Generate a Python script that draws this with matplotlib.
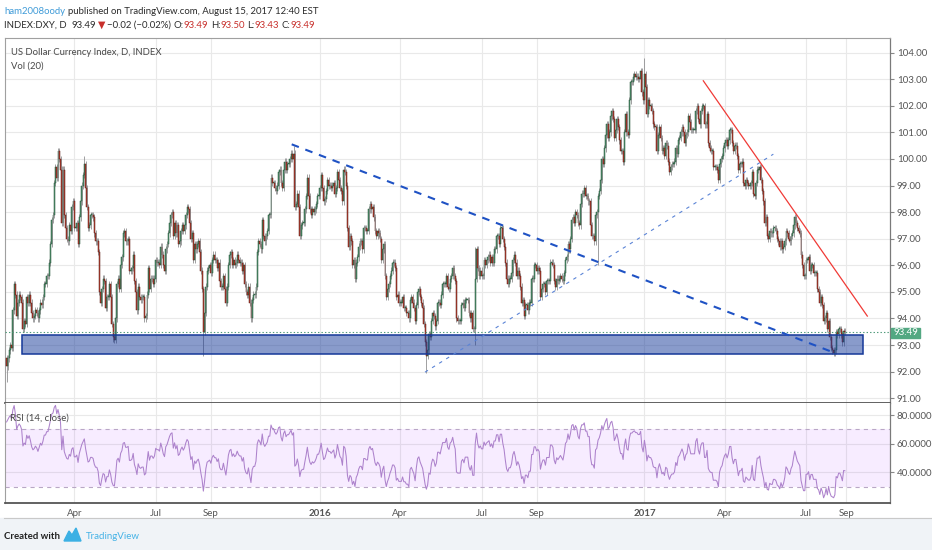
import numpy as np
import matplotlib
matplotlib.use('Agg')
import matplotlib.pyplot as plt
from matplotlib.patches import Rectangle, Polygon
from matplotlib.lines import Line2D

# DXY daily closes (one list per year, month by month)
closes_2015 = [
    92.2, 92.5, 92.8, 93.0, 92.9, 94.3, 95.3, 94.9, 94.1, 94.6, 94.9, 94.8,  # Jan (from 15th)
    94.6, 93.6, 93.9, 93.8, 94.8, 94.6, 94.9, 94.6, 94.2, 94.0, 94.1, 94.3, 94.2, 94.0, 94.3, 94.6, 94.5, 94.8, 95.3, 95.3,  # Feb
    95.6, 95.6, 96.1, 96.8, 97.7, 97.9, 99.1, 99.7, 99.3, 100.3, 100.0, 99.6, 97.6, 99.6, 97.9, 97.4, 97.0, 96.9, 97.5, 97.3, 98.2, 98.4,  # Mar
    97.4, 97.4, 97.6, 96.8, 97.8, 98.4, 99.0, 99.4, 99.8, 98.9, 98.2, 97.4, 97.5, 97.9, 97.9, 97.8, 97.2, 96.9, 96.9, 96.5, 95.0, 94.6,  # Apr
    95.1, 95.5, 95.4, 94.4, 94.8, 94.8, 95.3, 94.8, 93.8, 93.3, 93.2, 94.0, 95.3, 95.5, 95.1, 96.0, 96.3, 97.2, 97.3, 96.9, 96.9,  # May
    97.0, 95.8, 95.8, 95.9, 96.4, 95.4, 95.0, 94.3, 95.2, 94.8, 94.7, 94.8, 94.8, 94.0, 94.1, 94.9, 95.9, 95.1, 95.5, 95.5, 95.3, 95.5,  # Jun
    96.2, 96.1, 96.1, 96.0, 96.7, 96.4, 96.0, 95.8, 96.6, 96.8, 97.2, 97.6, 97.9, 98.0, 97.1, 97.6, 97.2, 97.5, 96.8, 96.9, 97.3, 97.5, 97.3,  # Jul
    97.5, 97.9, 98.2, 98.1, 97.6, 97.0, 97.2, 96.2, 96.8, 96.6, 96.8, 96.9, 96.5, 95.8, 95.1, 93.5, 94.2, 95.2, 95.8, 95.9, 96.0,  # Aug
    95.7, 96.2, 96.4, 96.2, 96.2, 95.9, 96.1, 95.4, 95.2, 95.2, 95.6, 95.1, 94.6, 95.2, 96.0, 96.4, 96.5, 96.0, 96.2, 96.0, 96.1, 96.4,  # Sep
    96.2, 96.1, 96.1, 95.8, 96.0, 95.3, 95.0, 94.9, 95.2, 94.6, 94.0, 94.7, 94.9, 94.9, 95.2, 96.5, 96.9, 96.8, 96.6, 97.7, 97.1, 96.9,  # Oct
    97.1, 97.3, 97.9, 97.9, 99.3, 99.1, 99.1, 98.9, 98.8, 99.0, 99.5, 99.6, 99.1, 98.9, 99.6, 99.9, 99.6, 99.8, 99.8, 100.0, 100.2,  # Nov
    100.0, 100.2, 98.2, 98.3, 98.7, 98.2, 97.1, 97.5, 97.6, 97.6, 98.1, 98.6, 99.3, 98.6, 98.1, 97.9, 98.1, 98.0, 98.1, 98.3, 98.6, 98.6,  # Dec
]
closes_2016 = [
    98.9, 99.4, 98.9, 98.4, 98.5, 98.8, 99.2, 99.0, 99.0, 98.9, 99.0, 99.1, 98.7, 98.9, 99.5, 99.2, 98.9, 98.8, 98.4, 99.6,  # Jan
    99.5, 99.0, 97.4, 96.7, 97.1, 96.9, 96.0, 96.2, 95.5, 96.1, 96.3, 96.7, 96.9, 96.9, 96.6, 97.4, 97.4, 97.3, 97.3, 98.1, 98.3,  # Feb
    98.1, 98.2, 97.8, 97.3, 97.1, 97.3, 97.2, 97.0, 96.2, 96.6, 96.8, 95.6, 94.8, 95.1, 95.3, 95.6, 95.8, 96.1, 96.1, 95.9, 94.8, 94.9, 94.6,  # Mar
    94.6, 94.6, 94.8, 94.4, 94.4, 94.2, 94.2, 94.0, 94.7, 94.8, 94.6, 94.4, 93.9, 94.5, 95.0, 95.1, 94.8, 94.6, 94.4, 93.8, 93.1,  # Apr
    92.6, 92.8, 93.4, 93.3, 93.9, 94.2, 94.1, 93.7, 93.9, 94.6, 94.6, 94.5, 94.9, 95.3, 95.3, 95.3, 95.6, 95.2, 95.1, 95.5, 95.6, 95.9,  # May
    95.6, 95.4, 94.0, 93.9, 93.9, 93.9, 94.5, 94.6, 94.4, 94.7, 94.7, 94.7, 94.2, 94.0, 94.2, 93.6, 93.6, 95.5, 96.6, 95.9, 95.6, 95.8,  # Jun
    95.6, 95.6, 96.2, 96.0, 96.2, 96.3, 96.4, 96.1, 96.3, 96.1, 96.6, 96.6, 97.1, 97.1, 96.8, 97.4, 97.4, 97.0, 96.7, 96.1, 95.5,  # Jul
    95.3, 95.5, 95.5, 95.7, 96.2, 96.4, 96.1, 95.6, 95.8, 95.6, 95.2, 94.6, 94.7, 94.1, 94.5, 94.5, 94.3, 94.6, 94.6, 95.5, 95.5, 96.0, 96.0,  # Aug
    95.8, 95.9, 95.8, 94.8, 95.1, 95.3, 95.3, 95.0, 95.4, 95.4, 95.4, 96.1, 96.1, 96.0, 95.4, 95.2, 95.5, 95.4, 95.5, 95.6, 95.5, 95.4,  # Sep
    95.7, 96.2, 96.3, 96.8, 96.6, 97.0, 97.7, 97.8, 97.6, 98.0, 97.9, 97.6, 97.5, 98.3, 98.7, 98.7, 98.9, 98.6, 98.6, 98.4, 98.4,  # Oct
    97.5, 97.1, 97.1, 96.9, 97.9, 98.0, 98.6, 98.8, 99.2, 100.0, 99.8, 100.4, 100.9, 101.3, 100.8, 101.0, 101.6, 101.8, 101.5, 100.8, 101.1, 101.5,  # Nov
    101.2, 100.7, 100.3, 100.3, 99.9, 101.0, 101.7, 101.0, 100.9, 102.2, 102.9, 102.9, 103.1, 103.2, 103.1, 103.1, 103.0, 103.0, 103.3, 102.5, 102.2,  # Dec
]
closes_2017 = [
    103.2, 102.7, 101.7, 102.2, 102.0, 102.0, 101.8, 101.3, 101.2, 101.2, 100.3, 100.9, 101.2, 100.8, 100.3, 100.4, 100.1, 100.6, 100.5, 99.9, 99.5,  # Jan
    99.7, 99.8, 99.8, 99.9, 100.4, 100.2, 100.7, 100.8, 101.0, 101.2, 101.0, 100.6, 100.9, 101.0, 101.6, 101.4, 101.1, 101.1, 101.1, 101.1,  # Feb
    101.8, 102.0, 101.5, 101.3, 101.8, 102.0, 102.0, 101.3, 101.3, 101.7, 100.6, 100.4, 100.3, 100.3, 99.7, 99.7, 99.7, 99.6, 99.2, 99.8, 100.0, 100.1, 100.4,  # Mar
    100.6, 100.7, 100.5, 100.7, 101.1, 101.1, 100.6, 100.3, 100.5, 100.5, 100.1, 99.6, 99.8, 99.8, 99.9, 99.1, 99.0, 99.2, 99.1, 99.0,  # Apr
    99.0, 99.1, 99.5, 98.7, 98.6, 99.1, 99.6, 99.6, 99.7, 99.2, 98.8, 98.4, 97.6, 97.8, 97.1, 97.0, 97.3, 97.2, 97.2, 97.4, 97.4, 97.3, 97.0,  # May
    96.9, 96.7, 96.9, 96.6, 96.7, 96.9, 97.3, 97.2, 97.0, 96.9, 97.1, 97.2, 97.5, 97.8, 97.6, 97.4, 97.3, 97.2, 96.4, 96.0, 95.6, 95.6,  # Jun
    96.2, 96.2, 96.3, 95.8, 96.0, 96.0, 95.7, 95.7, 95.7, 95.1, 95.0, 94.6, 94.8, 94.5, 93.9, 94.0, 94.2, 93.6, 93.9, 93.3, 92.9,  # Jul
    92.8, 92.7, 92.8, 93.5, 93.4, 93.6, 93.6, 93.4, 93.1, 93.51, 93.49,  # Aug (to 15th)
]
# trading days per month, Jan 2015 (from 15th) .. Aug 2017 (to 15th)
bars_per_month = [12, 20, 22, 22, 21, 22, 23, 21, 22, 22, 21, 22,
                  20, 21, 23, 21, 22, 22, 21, 23, 22, 21, 22, 21,
                  21, 20, 23, 20, 23, 22, 21, 11]
# closes before the first visible bar (only feed the RSI)
warmup_closes = [88.4, 88.6, 88.2, 88.9, 89.1, 89.6, 89.6, 90.1, 90.1, 89.9, 90.1,
                 90.0, 90.3, 91.1, 91.5, 91.8, 92.1, 92.4, 91.9, 92.0, 92.2, 92.5]
# notable wick extremes (bar index, price)
spike_high_idx = [41, 62, 229, 374, 509]
spike_high_val = [100.4, 100.1, 100.5, 96.7, 103.8]
spike_low_idx = [0, 85, 157, 335, 374, 472, 660]
spike_low_val = [91.6, 93.1, 92.6, 91.95, 93.0, 96.0, 92.6]

tick_labels = ['Apr', 'Jul', 'Sep', '2016', 'Apr', 'Jul', 'Sep', '2017', 'Apr', 'Jul', 'Sep']
tick_months = [3, 6, 8, 12, 15, 18, 20, 24, 27, 30, 32]   # month number from Jan 2015
price_ticks = list(range(91, 105))
rsi_ticks = [40, 60, 80]

# drawings: (bar index, price)
zone = (12.5, 683.2, 92.65, 93.38)
blue_trend = ([227.5, 661.1], [100.55, 92.70])
thin_trend = ([333.9, 611.9], [91.98, 100.18])
red_trend = ([556.0, 686.9], [102.94, 94.09])
last_price = 93.49

W, H = 932, 550
FONT = ['Lato', 'DejaVu Sans']
plt.rcParams['lines.scale_dashes'] = False
fig = plt.figure(figsize=(W / 100, H / 100), dpi=100)
fig.patch.set_facecolor('white')


def rect(l, t, r, b):
    return [l / W, 1 - b / H, (r - l) / W, (b - t) / H]


def px(x, y):
    return x / W, 1 - y / H


fig.patches.append(Rectangle((0, 0), 1, 32 / H, transform=fig.transFigure,
                             color='#f0f3f7', zorder=0))
fig.lines.append(Line2D([4 / W, 1], [1 - 518 / H] * 2, transform=fig.transFigure,
                        color='#c9c9c9', lw=0.8))

ax = fig.add_axes(rect(4.5, 38, 890, 403))
ax_rsi = fig.add_axes(rect(4.5, 403, 890, 503), sharex=ax)

closes = np.array(closes_2015 + closes_2016 + closes_2017)
n = len(closes)
idx = np.arange(n)
opens = np.r_[warmup_closes[-1], closes[:-1]]
wick = 0.12
highs = np.maximum(opens, closes) + wick
lows = np.minimum(opens, closes) - wick
highs[spike_high_idx] = spike_high_val
lows[spike_low_idx] = spike_low_val
up = closes >= opens
bottoms = np.minimum(opens, closes)
heights = np.maximum(np.abs(closes - opens), 0.03)

month_start = np.r_[0, np.cumsum(bars_per_month)]
sep17 = month_start[31] + np.busday_count('2017-08-01', '2017-09-01')
month_start = np.r_[month_start, sep17]
tick_pos = [month_start[m] for m in tick_months]

ax.vlines(idx, lows, highs, color='#909092', lw=0.6, zorder=2)
ax.bar(idx[up], heights[up], bottom=bottoms[up], width=0.72, color='#5f9e7c',
       edgecolor='#225437', lw=0.35, zorder=3)
ax.bar(idx[~up], heights[~up], bottom=bottoms[~up], width=0.72, color='#c84a38',
       edgecolor='#5b1a13', lw=0.35, zorder=3)

ax.add_patch(Rectangle((zone[0], zone[2]), zone[1] - zone[0], zone[3] - zone[2],
                       facecolor='#153899', alpha=0.5, lw=0, zorder=4))
ax.add_patch(Rectangle((zone[0], zone[2]), zone[1] - zone[0], zone[3] - zone[2],
                       facecolor='none', edgecolor='#153899', lw=1.1, zorder=4))
ax.axhline(last_price, color='#4f9a7a', lw=0.8, ls=(0, (1, 1.5)), zorder=5)
ax.plot(*blue_trend, color='#1f52c4', lw=1.5, dashes=(5.5, 5), zorder=6)
ax.plot(*thin_trend, color='#5b84d6', lw=0.8, dashes=(2.5, 3.5), zorder=6)
ax.plot(*red_trend, color='#f03a36', lw=0.9, zorder=6)

ax.set_xlim(-1.7, 705)
ax.set_ylim(90.82, 104.55)
ax.set_yticks(price_ticks)
ax.set_yticklabels([f'{v:.2f}' for v in price_ticks])
ax.set_xticks(tick_pos)
ax.yaxis.tick_right()
ax.tick_params(axis='y', length=3, color='#888888', labelsize=7, labelcolor='#555555', pad=2)
ax.tick_params(axis='x', length=0, labelbottom=False)
ax.grid(True, color='#e9e9e9', lw=0.8)
ax.set_axisbelow(True)

# RSI (14) on the closes
allc = np.r_[warmup_closes, closes]
d = np.diff(allc)
g = np.clip(d, 0, None)
l = np.clip(-d, 0, None)
ag = g[:14].mean()
al = l[:14].mean()
rsi = np.full(len(allc), np.nan)
rsi[14] = 100 - 100 / (1 + ag / al)
for k in range(14, len(d)):
    ag = (ag * 13 + g[k]) / 14
    al = (al * 13 + l[k]) / 14
    rsi[k + 1] = 100 - 100 / (1 + ag / al)
rsi = rsi[-n:]

ax_rsi.axhspan(30, 70, color='#9915ff', alpha=0.08, lw=0)
ax_rsi.axhline(70, color='#b9a7c6', lw=0.8, ls=(0, (3, 3)))
ax_rsi.axhline(30, color='#b9a7c6', lw=0.8, ls=(0, (3, 3)))
ax_rsi.plot(idx, rsi, color='#ad82cc', lw=0.75, zorder=3)
ax_rsi.set_ylim(18.6, 88.4)
ax_rsi.set_yticks(rsi_ticks)
ax_rsi.set_yticklabels([f'{v:.4f}' for v in rsi_ticks])
ax_rsi.yaxis.tick_right()
ax_rsi.tick_params(axis='y', length=3, color='#888888', labelsize=7, labelcolor='#555555', pad=2)
ax_rsi.set_xticks(tick_pos)
ax_rsi.set_xticklabels(tick_labels)
ax_rsi.tick_params(axis='x', length=0, labelsize=7, labelcolor='#555555', pad=4)
for t in ax_rsi.get_xticklabels():
    if t.get_text().startswith('20'):
        t.set_fontweight('bold')
ax_rsi.grid(True, color='#e9e9e9', lw=0.8)
ax_rsi.set_axisbelow(True)

for a in (ax, ax_rsi):
    for lab in a.get_xticklabels() + a.get_yticklabels():
        lab.set_family(FONT)
    a.spines['left'].set_color('#a0a0a0')
    a.spines['left'].set_linewidth(0.8)
    a.spines['right'].set_color('#7a7a7a')
    a.spines['right'].set_linewidth(0.9)
    a.spines['bottom'].set_color('#555555')
    a.spines['bottom'].set_linewidth(1.3)
ax.spines['top'].set_color('#a0a0a0')
ax.spines['top'].set_linewidth(0.8)
ax_rsi.spines['top'].set_visible(False)

# last price tag
fig.patches.append(Rectangle(px(890.5, 337.5), 29 / W, 10 / H, transform=fig.transFigure,
                             color='#53a882', zorder=5))
fig.text(*px(893, 332.5), f'{last_price:.2f}', fontsize=7, color='white', va='center',
         family=FONT, zorder=6)

renderer = fig.canvas.get_renderer()


def text_row(x, y, pieces, size, weight='normal'):
    probe1 = fig.text(0, 0, 'a a', fontsize=size, family=FONT, weight=weight)
    probe2 = fig.text(0, 0, 'aa', fontsize=size, family=FONT, weight=weight)
    gap = probe1.get_window_extent(renderer).width - probe2.get_window_extent(renderer).width
    probe1.remove()
    probe2.remove()
    for s, c, sp in pieces:
        x += gap * sp
        t = fig.text(*px(x, y), s, fontsize=size, color=c, family=FONT, weight=weight,
                     va='baseline')
        x += t.get_window_extent(renderer).width


dark = '#2b2b2b'
red = '#c8302c'
text_row(4, 13.5, [('ham2008oody', '#3f9bd8', 0),
                   ('published on TradingView.com, August 15, 2017 12:40 EST', dark, 1)], 6.9)
text_row(4, 28, [('INDEX:DXY, D', dark, 0), ('93.49', dark, 2), ('\u25bc', red, 0.7),
                 ('\u22120.02 (\u22120.02%)', dark, 0.7), ('O:', dark, 1), ('93.49', red, 0),
                 ('H:', dark, 1), ('93.50', red, 0), ('L:', dark, 1), ('93.43', red, 0),
                 ('C:', dark, 1), ('93.49', red, 0)], 6.9)

fig.text(*px(11, 55), 'US Dollar Currency Index, D, INDEX', fontsize=6.8, color='#484848',
         va='baseline', family=FONT)
fig.text(*px(11, 69), 'Vol (20)', fontsize=6.8, color='#484848', va='baseline', family=FONT)
fig.text(*px(10, 421), 'RSI (14, close)', fontsize=6.9, color='#484848', va='baseline', family=FONT)

fig.text(*px(4, 539), 'Created with', fontsize=6.9, color='#222222', weight='bold',
         va='baseline', family=FONT)
logo = [(64, 541), (69, 531), (72, 535), (76, 528), (81, 541)]
fig.patches.append(Polygon([px(a, b) for a, b in logo], closed=True, transform=fig.transFigure,
                           color='#3cb0e4'))
fig.text(*px(86, 539), 'TradingView', fontsize=7.0, color='#46b3e6', va='baseline', family=FONT)

fig.savefig('out.png', dpi=100, facecolor=fig.get_facecolor())
